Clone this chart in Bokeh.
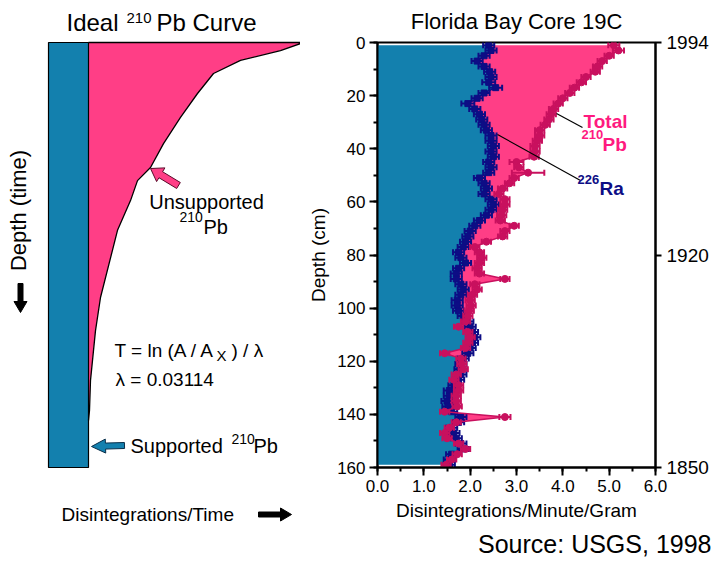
import math
from bokeh.plotting import figure
from bokeh.layouts import row
from bokeh.models import Range1d, Label, LinearAxis, FixedTicker, PrintfTickFormatter, Title
from bokeh.embed import file_html
from bokeh.resources import INLINE

FONT = "Liberation Sans"
BLUE = "#1380AE"
PINK = "#FF3E86"
MAG = "#C8105E"
NAVY = "#0D0D85"
TOTAL_TXT = "#FF1A7F"

# ---------------- data: Florida Bay Core 19C ----------------
depth_cm = [1, 3, 5, 7, 9, 11, 13, 15, 17, 19,
            21, 23, 25, 27, 29, 31, 33, 35, 37, 39,
            41, 43, 45, 47, 49, 51, 53, 55, 57, 59,
            61, 63, 65, 67, 69, 71, 73, 75, 77, 79,
            81, 83, 85, 87, 89, 91, 93, 95, 97, 99,
            101, 103, 105, 107, 109, 111, 113, 115, 117, 119,
            121, 123, 125, 127, 129, 131, 133, 135, 137, 139,
            141, 143, 145, 147, 149, 151, 153, 155, 157, 159]
ra226 = [2.40, 2.45, 2.30, 2.15, 2.30, 2.42, 2.45, 2.40, 2.55, 2.30,
         2.15, 1.95, 2.10, 2.20, 2.25, 2.30, 2.35, 2.45, 2.45, 2.50,
         2.45, 2.50, 2.40, 2.45, 2.40, 2.20, 2.30, 2.35, 2.30, 2.45,
         2.50, 2.45, 2.35, 2.20, 2.10, 2.00, 1.95, 1.90, 1.85, 1.75,
         1.80, 1.90, 1.75, 1.70, 1.70, 1.80, 1.85, 1.80, 1.72, 1.72,
         1.75, 1.85, 1.95, 2.00, 2.05, 2.10, 2.05, 2.00, 1.95, 1.85,
         1.80, 1.78, 1.80, 1.75, 1.65, 1.55, 1.55, 1.50, 1.52, 1.60,
         1.80, 1.75, 1.60, 1.65, 1.70, 1.80, 1.85, 1.60, 1.55, 1.55]
pb210_total = [5.10, 5.20, 5.00, 4.85, 4.75, 4.70, 4.50, 4.40, 4.25, 4.15,
               4.00, 3.90, 3.80, 3.75, 3.70, 3.62, 3.50, 3.50, 3.45, 3.40,
               3.40, 3.38, 3.00, 3.05, 3.25, 2.95, 2.85, 2.70, 2.62, 2.75,
               2.75, 2.70, 2.68, 2.65, 2.95, 2.75, 2.70, 2.35, 2.10, 2.20,
               2.25, 2.20, 2.15, 2.20, 2.75, 2.10, 2.15, 2.05, 2.00, 2.02,
               1.98, 1.95, 1.90, 1.75, 1.95, 2.00, 1.95, 1.90, 1.45, 1.80,
               1.82, 1.85, 1.70, 1.65, 1.75, 1.75, 1.70, 1.70, 1.72, 1.45,
               2.75, 1.70, 1.55, 1.45, 1.50, 1.75, 1.90, 1.72, 1.60, 1.48]
ra_err = [0.12, 0.12, 0.12, 0.12, 0.12, 0.12, 0.12, 0.14, 0.14, 0.12,
          0.12, 0.14, 0.12, 0.12, 0.12, 0.12, 0.12, 0.12, 0.12, 0.12,
          0.12, 0.12, 0.12, 0.12, 0.12, 0.12, 0.12, 0.12, 0.12, 0.12,
          0.12, 0.12, 0.12, 0.12, 0.12, 0.12, 0.12, 0.12, 0.12, 0.12,
          0.12, 0.12, 0.12, 0.12, 0.12, 0.12, 0.12, 0.12, 0.12, 0.12,
          0.12, 0.12, 0.12, 0.12, 0.12, 0.12, 0.12, 0.12, 0.12, 0.12,
          0.12, 0.12, 0.12, 0.12, 0.12, 0.12, 0.12, 0.12, 0.12, 0.12,
          0.12, 0.12, 0.12, 0.12, 0.12, 0.12, 0.12, 0.12, 0.12, 0.12]
pb_err = [0.12, 0.12, 0.10, 0.10, 0.10, 0.10, 0.10, 0.10, 0.10, 0.10,
          0.10, 0.10, 0.10, 0.10, 0.10, 0.10, 0.10, 0.10, 0.10, 0.10,
          0.10, 0.10, 0.15, 0.10, 0.35, 0.10, 0.10, 0.10, 0.10, 0.10,
          0.10, 0.10, 0.10, 0.10, 0.10, 0.10, 0.10, 0.10, 0.10, 0.10,
          0.10, 0.10, 0.10, 0.10, 0.10, 0.10, 0.10, 0.10, 0.10, 0.10,
          0.10, 0.10, 0.10, 0.10, 0.10, 0.10, 0.10, 0.10, 0.10, 0.10,
          0.10, 0.10, 0.10, 0.10, 0.10, 0.10, 0.10, 0.10, 0.10, 0.10,
          0.12, 0.10, 0.10, 0.10, 0.10, 0.10, 0.10, 0.10, 0.10, 0.10]

x_ticks = [0, 1, 2, 3, 4, 5, 6]
x_minor_ticks = [0, 0.5, 1, 1.5, 2, 2.5, 3, 3.5, 4, 4.5, 5, 5.5, 6]
depth_ticks = [0, 20, 40, 60, 80, 100, 120, 140, 160]
depth_minor_ticks = [0, 10, 20, 30, 40, 50, 60, 70, 80, 90, 100, 110, 120, 130, 140, 150, 160]
year_tick_depths = [0, 80, 160]
year_labels = ["1994", "1920", "1850"]

# ---------------- data: ideal curve (arbitrary units) ----------------
ideal_depth = [0, 1.9, 4.2, 7.3, 12.0, 17.6, 23.8, 29.4, 32.5, 37.2, 44.2, 60.0, 67.8, 79.5, 86.6, 88.9]
ideal_activity = [6.375, 5.8, 4.8, 4.125, 3.725, 3.3, 2.875, 2.55, 2.225, 2.05, 1.725, 1.3, 1.175, 1.05, 1.025, 1.0]
supported_activity = 1.0
ideal_bottom = 100

H = 567
W1 = 300
W2 = 417
BASE_SHIFT = 6  # label baselines render this many px below the requested position


def lx(px):
    return (px - 48) / 40.0


def ly(py):
    return (py - 42) / 4.25


def rx(px):
    return (px - 377) / 278.0 * 6


def ry(py):
    return (py - 42) / 425.0 * 160


def fat_arrow(tail, head, shaft, head_w, head_len):
    (tx, ty), (hx, hy) = tail, head
    dx, dy = hx - tx, hy - ty
    L = math.hypot(dx, dy)
    ux, uy = dx / L, dy / L
    nx, ny = -uy, ux
    bx, by = hx - ux * head_len, hy - uy * head_len
    pts = [(tx + nx * shaft, ty + ny * shaft), (bx + nx * shaft, by + ny * shaft),
           (bx + nx * head_w, by + ny * head_w), (hx, hy),
           (bx - nx * head_w, by - ny * head_w), (bx - nx * shaft, by - ny * shaft),
           (tx - nx * shaft, ty - ny * shaft)]
    return [lx(p[0]) for p in pts], [ly(p[1]) for p in pts]


# ---------------- left figure ----------------
left = figure(width=W1, height=H, x_range=Range1d(lx(0), lx(W1)),
              y_range=Range1d(ly(H), ly(0)), x_axis_type=None, y_axis_type=None,
              toolbar_location=None, output_backend="svg", min_border=0,
              outline_line_color=None)
try:
    left.frame_align = False
except Exception:
    pass
left.harea(y=ideal_depth, x1=supported_activity, x2=ideal_activity, fill_color=PINK)
left.quad(left=0, right=supported_activity, top=0, bottom=ideal_bottom,
          fill_color=BLUE, line_color="black", line_width=1.2)
left.line(x=[supported_activity] + ideal_activity, y=[0] + ideal_depth,
          line_color="black", line_width=1.3)

for tail, head, sw, hw, hl, fc, lc in [
        ((178, 185), (150, 168), 3.5, 8, 12, PINK, "#5a0a2a"),
        ((124, 445), (91, 446), 3.0, 7, 14, BLUE, "#0a2f4a"),
        ((20, 283), (20, 312), 2.5, 6.5, 11, "black", "black"),
        ((258, 514), (291, 514), 2.5, 6.5, 11, "black", "black")]:
    xs, ys = fat_arrow(tail, head, sw, hw, hl)
    left.patch(xs, ys, fill_color=fc, line_color=lc, line_width=1)


def ltext(fig, fx, fy, px, py, text, size, align="left", color="black", style="normal",
          angle=0, baseline="alphabetic"):
    if baseline == "alphabetic":
        py = py - BASE_SHIFT
    fig.add_layout(Label(x=fx(px), y=fy(py), text=text, text_font=FONT,
                         text_font_size=f"{size}px", text_align=align,
                         text_baseline=baseline, text_color=color,
                         text_font_style=style, angle=angle))


ltext(left, lx, ly, 66, 28, "Ideal", 24)
ltext(left, lx, ly, 126, 23, "210", 15)
ltext(left, lx, ly, 156, 28, "Pb Curve", 24)
ltext(left, lx, ly, 206, 207, "Unsupported", 20, align="center")
ltext(left, lx, ly, 179, 222, "210", 14)
ltext(left, lx, ly, 203, 232, "Pb", 20)
ltext(left, lx, ly, 114, 356, "T = ln (A / A", 19)
ltext(left, lx, ly, 216, 361, "X", 15)
ltext(left, lx, ly, 231, 356, ") / \u03bb", 19)
ltext(left, lx, ly, 115, 385, "\u03bb = 0.03114", 19)
ltext(left, lx, ly, 130, 451, "Supported", 20)
ltext(left, lx, ly, 231, 444, "210", 14)
ltext(left, lx, ly, 253, 451, "Pb", 20)
ltext(left, lx, ly, 61, 520, "Disintegrations/Time", 19)
ltext(left, lx, ly, 18, 210, "Depth (time)", 22, align="center", angle=math.pi / 2,
      baseline="middle")

# ---------------- right figure ----------------
right = figure(width=W2, height=H, x_range=Range1d(0, 6), y_range=Range1d(160, 0),
               toolbar_location=None, output_backend="svg",
               title="Florida Bay Core 19C",
               min_border_left=77, min_border_right=W2 - 77 - 278, min_border_top=42,
               min_border_bottom=H - 42 - 425)
right.title.align = "center"
right.title.text_font = FONT
right.title.text_font_size = "22px"
right.title.text_font_style = "normal"
right.title.text_color = "black"
right.title.vertical_align = "top"
right.title.standoff = 14
right.grid.visible = False
right.outline_line_color = "black"
right.outline_line_width = 2

right.harea(y=depth_cm, x1=0, x2=ra226, fill_color=BLUE)
right.harea(y=depth_cm, x1=ra226, x2=pb210_total, fill_color=PINK)

ra_lo = [v - e for v, e in zip(ra226, ra_err)]
ra_hi = [v + e for v, e in zip(ra226, ra_err)]
pb_lo = [v - e for v, e in zip(pb210_total, pb_err)]
pb_hi = [v + e for v, e in zip(pb210_total, pb_err)]

right.segment(x0=ra_lo, y0=depth_cm, x1=ra_hi, y1=depth_cm, line_color=NAVY, line_width=2)
right.scatter(x=ra_lo + ra_hi, y=depth_cm + depth_cm, marker="dash", angle=math.pi / 2,
              size=6, line_color=NAVY, line_width=2)
right.line(x=ra226, y=depth_cm, line_color=NAVY, line_width=1.5)
right.scatter(x=ra226, y=depth_cm, marker="square", size=6, fill_color=NAVY, line_color=NAVY)

right.line(x=pb210_total, y=depth_cm, line_color=MAG, line_width=1.5)
right.segment(x0=pb_lo, y0=depth_cm, x1=pb_hi, y1=depth_cm, line_color=MAG, line_width=2)
right.scatter(x=pb_lo + pb_hi, y=depth_cm + depth_cm, marker="dash", angle=math.pi / 2,
              size=6, line_color=MAG, line_width=2)
right.scatter(x=pb210_total, y=depth_cm, marker="circle", size=7, fill_color=MAG, line_color=MAG)

# leader lines
right.segment(x0=[rx(556), rx(497)], y0=[ry(113), ry(134)], x1=[rx(582), rx(580)],
              y1=[ry(127), ry(180)], line_color="black", line_width=1.2)

# axes
xa = right.xaxis[0]
xa.ticker = FixedTicker(ticks=x_ticks, minor_ticks=x_minor_ticks)
xa.formatter = PrintfTickFormatter(format="%.1f")
xa.axis_label = "Disintegrations/Minute/Gram"
ya = right.yaxis[0]
ya.ticker = FixedTicker(ticks=depth_ticks, minor_ticks=depth_minor_ticks)
ya.axis_label = "Depth (cm)"
yr = LinearAxis(ticker=FixedTicker(ticks=year_tick_depths),
                major_label_overrides=dict(zip(year_tick_depths, year_labels)))
right.add_layout(yr, "right")
yr.minor_tick_line_color = None

for ax in [xa, ya, yr]:
    ax.axis_line_width = 2
    ax.major_tick_line_width = 2
    ax.minor_tick_line_width = 2
    ax.major_tick_out = 8
    ax.major_tick_in = 0
    ax.minor_tick_out = 4
    ax.minor_tick_in = 0
    ax.major_label_text_font = FONT
    ax.major_label_text_font_size = "17px"
    ax.major_label_text_color = "black"
    ax.axis_label_text_font = FONT
    ax.axis_label_text_font_size = "19px"
    ax.axis_label_text_font_style = "normal"
    ax.axis_label_text_color = "black"
    ax.major_label_standoff = 4
    ax.axis_label_standoff = 5
yr.major_label_text_font_size = "19px"
yr.major_tick_out = 6
yr.major_label_standoff = 5

right.add_layout(Title(text="Source: USGS, 1998", align="right", offset=-56,
                       text_font=FONT, text_font_size="25px", text_font_style="normal",
                       text_color="black", standoff=9), "below")

ltext(right, rx, ry, 583, 127, "Total", 19, color=TOTAL_TXT, style="bold")
ltext(right, rx, ry, 581, 140, "210", 13, color=TOTAL_TXT, style="bold")
ltext(right, rx, ry, 602, 150, "Pb", 19, color=TOTAL_TXT, style="bold")
ltext(right, rx, ry, 577, 185, "226", 13, color=NAVY, style="bold")
ltext(right, rx, ry, 599, 194, "Ra", 19, color=NAVY, style="bold")

layout = row(left, right)
open("out.html", "w").write(file_html(layout, INLINE))
